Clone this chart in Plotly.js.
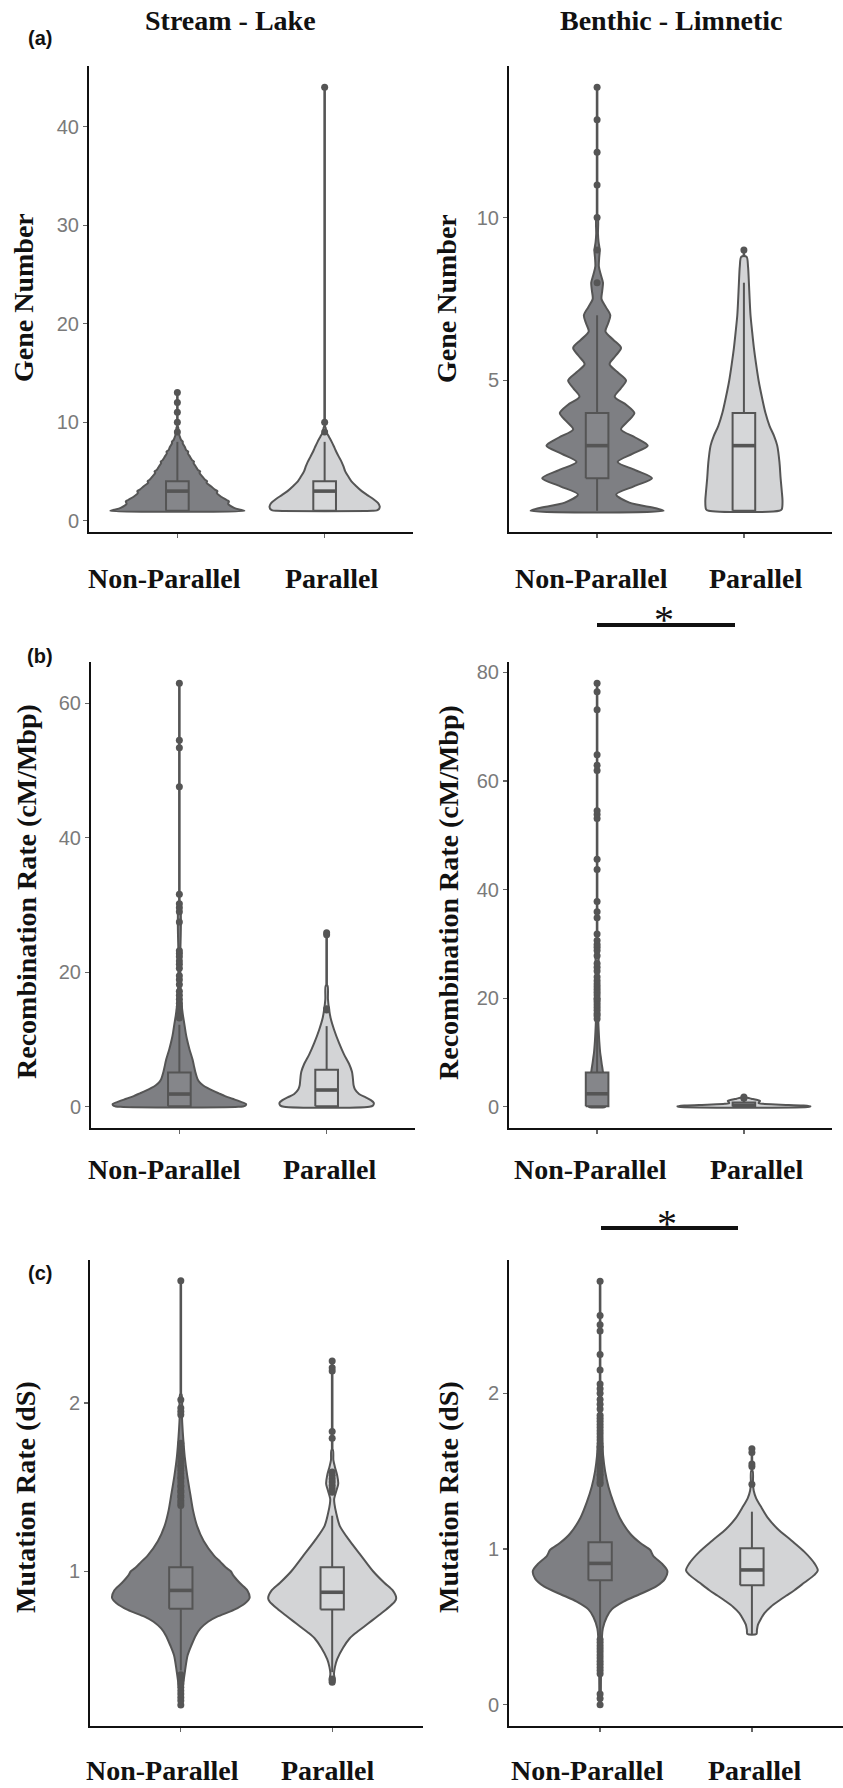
<!DOCTYPE html>
<html>
<head>
<meta charset="utf-8">
<script src="https://cdn.plot.ly/plotly-3.0.1.min.js"></script>
<style>
html,body{margin:0;padding:0;background:#fff;}
#chart{width:843px;height:1788px;}
</style>
</head>
<body>
<div id="chart"></div>
<script>
// ---------------- labels ----------------
const categories = ['Non-Parallel', 'Parallel'];
const columnTitles = ['Stream - Lake', 'Benthic - Limnetic'];
const panelLetters = ['(a)', '(b)', '(c)'];
const yTitles = ['Gene Number', 'Recombination Rate (cM/Mbp)', 'Mutation Rate (dS)'];

// Violin profiles: y levels and half-widths (category units); the last level is the maximum
// value, reached by a thin tail.
// ---------------- (a) Gene Number, Stream - Lake ----------------
const geneSL_NP_y = [1, 1.1, 1.3, 1.7, 1.95, 2.1, 2.4, 2.8, 3.0, 3.15, 3.5, 3.85, 4.0, 4.15, 4.5, 4.85, 5.0, 5.15, 5.5, 5.85, 6.0, 6.15, 6.5, 6.85, 7.0, 7.15, 7.5, 7.85, 8.0, 8.2, 8.6, 9.0, 9.5, 13];
const geneSL_NP_w = [0.455, 0.43, 0.385, 0.345, 0.35, 0.335, 0.30, 0.268, 0.272, 0.255, 0.228, 0.198, 0.202, 0.188, 0.168, 0.150, 0.155, 0.140, 0.125, 0.110, 0.113, 0.100, 0.085, 0.071, 0.074, 0.060, 0.050, 0.036, 0.037, 0.025, 0.015, 0.008, 0.005, 0.004];
const geneSL_P_y = [1, 1.05, 1.2, 1.45, 1.8, 2.2, 2.6, 3.0, 3.5, 4.0, 4.5, 5.0, 5.5, 6.0, 6.5, 7.0, 7.5, 8.0, 8.5, 9.0, 9.5, 44];
const geneSL_P_w = [0.325, 0.355, 0.370, 0.374, 0.362, 0.330, 0.290, 0.252, 0.215, 0.182, 0.160, 0.140, 0.128, 0.114, 0.096, 0.079, 0.064, 0.048, 0.030, 0.012, 0.005, 0.004];
const geneSL_q1 = [1, 1], geneSL_med = [3, 3], geneSL_q3 = [4, 4], geneSL_lf = [1, 1], geneSL_uf = [8, 8];
const geneSL_NP_out = [9, 10, 11, 12, 13];
const geneSL_P_out = [9, 10, 44];

// ---------------- (a) Gene Number, Benthic - Limnetic ----------------
const geneBL_NP_y = [1, 1.08, 1.25, 1.5, 1.75, 2.0, 2.25, 2.5, 2.75, 3.0, 3.25, 3.5, 3.75, 4.0, 4.25, 4.5, 4.75, 5.0, 5.25, 5.5, 5.75, 6.0, 6.25, 6.5, 6.75, 7.0, 7.25, 7.5, 7.75, 8.0, 8.25, 8.5, 8.75, 9.0, 9.25, 9.5, 10, 14];
const geneBL_NP_w = [0.453, 0.40, 0.22, 0.13, 0.25, 0.374, 0.26, 0.14, 0.24, 0.345, 0.26, 0.163, 0.21, 0.254, 0.20, 0.12, 0.16, 0.197, 0.14, 0.085, 0.125, 0.163, 0.11, 0.057, 0.075, 0.09, 0.06, 0.03, 0.035, 0.04, 0.025, 0.012, 0.014, 0.018, 0.01, 0.006, 0.005, 0.004];
const geneBL_P_y = [1, 1.05, 1.3, 1.6, 2.0, 2.5, 3.0, 3.3, 3.6, 4.0, 4.5, 5.0, 5.5, 6.0, 6.5, 7.0, 7.5, 8.0, 8.5, 8.8, 9.0];
const geneBL_P_w = [0.24, 0.258, 0.263, 0.258, 0.25, 0.242, 0.227, 0.205, 0.175, 0.147, 0.122, 0.10, 0.083, 0.068, 0.056, 0.045, 0.039, 0.034, 0.028, 0.018, 0.006];
const geneBL_q1 = [2, 1], geneBL_med = [3, 3], geneBL_q3 = [4, 4], geneBL_lf = [1, 1], geneBL_uf = [7, 8];
const geneBL_NP_out = [8, 9, 10, 11, 12, 13, 14];
const geneBL_P_out = [9];

// ---------------- (b) Recombination Rate, Stream - Lake ----------------
const recSL_NP_y = [0, 0.15, 0.4, 0.8, 1.2, 1.6, 2.0, 2.4, 2.8, 3.2, 3.7, 4.2, 5.2, 6.0, 7.0, 8.6, 10, 11, 12.3, 13.5, 14.5, 16, 18, 22, 30, 63];
const recSL_NP_w = [0.40, 0.445, 0.453, 0.41, 0.36, 0.31, 0.268, 0.227, 0.19, 0.16, 0.135, 0.122, 0.108, 0.10, 0.09, 0.068, 0.052, 0.043, 0.034, 0.025, 0.019, 0.012, 0.008, 0.006, 0.005, 0.004];
const recSL_P_y = [0, 0.2, 0.6, 1.0, 1.4, 1.9, 2.6, 3.2, 3.8, 4.5, 5.2, 6.4, 7.8, 9.5, 11.5, 13.2, 14.6, 16, 18, 26];
const recSL_P_w = [0.29, 0.315, 0.32, 0.30, 0.265, 0.22, 0.192, 0.183, 0.18, 0.177, 0.172, 0.152, 0.118, 0.084, 0.05, 0.027, 0.016, 0.009, 0.006, 0.004];
const recSL_q1 = [0.1, 0.1], recSL_med = [1.9, 2.5], recSL_q3 = [5.1, 5.5], recSL_lf = [0, 0], recSL_uf = [12.2, 12];
const recSL_NP_out = [13.2, 13.8, 14.4, 14.9, 15.4, 16.0, 16.6, 17.2, 18.2, 18.9, 19.5, 20.6, 21.2, 21.7, 22.3, 22.8, 23.2, 27.5, 29.0, 29.6, 30.2, 31.6, 47.6, 53.4, 54.5, 63.0];
const recSL_P_out = [14.4, 14.6, 25.6, 25.9];

// ---------------- (b) Recombination Rate, Benthic - Limnetic ----------------
const recBL_NP_y = [0, 0.3, 1, 2, 3, 4, 5, 6, 7, 8, 9, 10, 12, 14, 16, 20, 30, 78];
const recBL_NP_w = [0.055, 0.06, 0.062, 0.06, 0.056, 0.052, 0.047, 0.042, 0.037, 0.031, 0.026, 0.021, 0.015, 0.011, 0.008, 0.006, 0.005, 0.004];
const recBL_P_y = [0, 0.1, 0.25, 0.4, 0.55, 0.7, 0.9, 1.1, 1.3, 1.5, 1.65, 1.8];
const recBL_P_w = [0.445, 0.453, 0.40, 0.25, 0.13, 0.10, 0.105, 0.11, 0.085, 0.05, 0.025, 0.006];
const recBL_q1 = [0.1, 0.05], recBL_med = [2.4, 0.3], recBL_q3 = [6.3, 0.8], recBL_lf = [0, 0], recBL_uf = [15.6, 1.5];
const recBL_NP_out = [16.2, 16.8, 17.2, 17.8, 18.3, 18.8, 19.3, 19.7, 20.0, 20.6, 21.1, 21.6, 22.1, 22.6, 23.2, 23.9, 25.0, 25.7, 26.4, 27.8, 28.8, 29.4, 29.9, 30.6, 31.8, 34.8, 35.9, 37.8, 43.7, 45.6, 53.1, 53.8, 54.5, 61.9, 62.9, 64.8, 73.1, 76.4, 78.0];
const recBL_P_out = [1.6, 1.8];

// ---------------- (c) Mutation Rate, Stream - Lake ----------------
const mutSL_NP_y = [0.205, 0.3, 0.41, 0.5, 0.56, 0.62, 0.66, 0.7, 0.73, 0.77, 0.81, 0.84, 0.886, 0.93, 0.977, 1.0, 1.02, 1.057, 1.09, 1.18, 1.27, 1.36, 1.45, 1.57, 1.68, 1.8, 1.91, 2.05, 2.727];
const mutSL_NP_w = [0.006, 0.012, 0.028, 0.045, 0.07, 0.10, 0.13, 0.18, 0.24, 0.35, 0.425, 0.454, 0.44, 0.39, 0.345, 0.33, 0.30, 0.26, 0.222, 0.151, 0.107, 0.081, 0.064, 0.042, 0.026, 0.015, 0.008, 0.005, 0.004];
const mutSL_P_y = [0.34, 0.36, 0.39, 0.43, 0.477, 0.545, 0.6, 0.636, 0.67, 0.705, 0.74, 0.773, 0.818, 0.84, 0.886, 0.93, 1.0, 1.09, 1.18, 1.27, 1.34, 1.40, 1.43, 1.48, 1.52, 1.57, 1.62, 1.66, 1.72, 2.25];
const mutSL_P_w = [0.012, 0.016, 0.012, 0.018, 0.033, 0.072, 0.115, 0.16, 0.21, 0.26, 0.31, 0.357, 0.412, 0.423, 0.40, 0.346, 0.27, 0.193, 0.116, 0.05, 0.028, 0.015, 0.013, 0.028, 0.04, 0.033, 0.018, 0.008, 0.005, 0.004];
const mutSL_q1 = [0.777, 0.773], mutSL_med = [0.886, 0.875], mutSL_q3 = [1.023, 1.023], mutSL_lf = [0.41, 0.40], mutSL_uf = [1.39, 1.33];
const mutSL_NP_out = [0.205, 0.23, 0.25, 0.27, 0.29, 0.31, 0.33, 0.35, 0.37, 0.385, 1.39, 1.405, 1.42, 1.44, 1.45, 1.47, 1.48, 1.50, 1.51, 1.53, 1.55, 1.56, 1.58, 1.60, 1.62, 1.63, 1.65, 1.67, 1.69, 1.70, 1.72, 1.74, 1.76, 1.93, 1.95, 1.97, 2.02, 2.727];
const mutSL_P_out = [0.34, 0.35, 0.36, 1.47, 1.49, 1.51, 1.53, 1.55, 1.57, 1.59, 1.79, 1.83, 2.19, 2.21, 2.25];

// ---------------- (c) Mutation Rate, Benthic - Limnetic ----------------
const mutBL_NP_y = [0, 0.05, 0.2, 0.35, 0.43, 0.49, 0.564, 0.613, 0.663, 0.71, 0.76, 0.81, 0.86, 0.908, 0.957, 0.994, 1.04, 1.1, 1.2, 1.3, 1.4, 1.5, 1.6, 1.72, 1.85, 2.0, 2.72];
const mutBL_NP_w = [0.004, 0.005, 0.006, 0.009, 0.012, 0.018, 0.044, 0.077, 0.154, 0.26, 0.37, 0.428, 0.443, 0.406, 0.35, 0.33, 0.263, 0.197, 0.13, 0.088, 0.055, 0.033, 0.02, 0.012, 0.007, 0.005, 0.004];
const mutBL_P_y = [0.454, 0.48, 0.515, 0.55, 0.589, 0.63, 0.663, 0.7, 0.736, 0.785, 0.834, 0.864, 0.908, 0.982, 1.055, 1.129, 1.2, 1.276, 1.325, 1.374, 1.42, 1.5, 1.64];
const mutBL_P_w = [0.03, 0.033, 0.04, 0.058, 0.083, 0.125, 0.17, 0.225, 0.28, 0.346, 0.412, 0.434, 0.412, 0.346, 0.26, 0.17, 0.105, 0.057, 0.028, 0.012, 0.007, 0.005, 0.004];
const mutBL_q1 = [0.80, 0.768], mutBL_med = [0.908, 0.866], mutBL_q3 = [1.043, 1.006], mutBL_lf = [0.43, 0.454], mutBL_uf = [1.41, 1.24];
const mutBL_NP_out = [0.0, 0.04, 0.07, 0.20, 0.22, 0.24, 0.26, 0.28, 0.30, 0.32, 0.34, 0.36, 0.38, 0.40, 0.42, 1.42, 1.43, 1.45, 1.47, 1.48, 1.50, 1.52, 1.54, 1.56, 1.57, 1.59, 1.61, 1.63, 1.65, 1.66, 1.68, 1.70, 1.72, 1.74, 1.76, 1.78, 1.80, 1.82, 1.84, 1.86, 1.90, 1.93, 1.96, 2.00, 2.03, 2.06, 2.15, 2.25, 2.40, 2.44, 2.50, 2.72];
const mutBL_P_out = [1.416, 1.53, 1.546, 1.62, 1.644];

// ---------------- axis tick values ----------------
const geneSL_ticks = [0, 10, 20, 30, 40];
const geneBL_ticks = [5, 10];
const recSL_ticks = [0, 20, 40, 60];
const recBL_ticks = [0, 20, 40, 60, 80];
const mutSL_ticks = [1, 2];
const mutBL_ticks = [0, 1, 2];

// ---------------- styling / layout (pixels) ----------------
const W = 843, H = 1788;
const px = v => v / W;
const py = v => 1 - v / H;
const darkFill = '#7e7f83', lightFill = '#d3d4d6';
const darkBox = '#85868a', lightBox = '#d6d7d9';
const edge = '#555555';
const serif = 'Liberation Serif, Times New Roman, serif';
const sans = 'Liberation Sans, Arial, sans-serif';
const boxHalf = 0.077;

const panels = [
  {xd:[89,413], yd:[66,532], yr:[-1.15,46.15], tv:geneSL_ticks,
   vy:[geneSL_NP_y, geneSL_P_y], vw:[geneSL_NP_w, geneSL_P_w],
   q1:geneSL_q1, med:geneSL_med, q3:geneSL_q3, lf:geneSL_lf, uf:geneSL_uf, out:[geneSL_NP_out, geneSL_P_out]},
  {xd:[509,832], yd:[66,532], yr:[0.35,14.65], tv:geneBL_ticks,
   vy:[geneBL_NP_y, geneBL_P_y], vw:[geneBL_NP_w, geneBL_P_w],
   q1:geneBL_q1, med:geneBL_med, q3:geneBL_q3, lf:geneBL_lf, uf:geneBL_uf, out:[geneBL_NP_out, geneBL_P_out]},
  {xd:[91,415], yd:[662,1128], yr:[-3.15,66.15], tv:recSL_ticks,
   vy:[recSL_NP_y, recSL_P_y], vw:[recSL_NP_w, recSL_P_w],
   q1:recSL_q1, med:recSL_med, q3:recSL_q3, lf:recSL_lf, uf:recSL_uf, out:[recSL_NP_out, recSL_P_out]},
  {xd:[509,832], yd:[662,1128], yr:[-3.9,81.9], tv:recBL_ticks,
   vy:[recBL_NP_y, recBL_P_y], vw:[recBL_NP_w, recBL_P_w],
   q1:recBL_q1, med:recBL_med, q3:recBL_q3, lf:recBL_lf, uf:recBL_uf, out:[recBL_NP_out, recBL_P_out]},
  {xd:[90,423], yd:[1260,1726], yr:[0.08,2.85], tv:mutSL_ticks,
   vy:[mutSL_NP_y, mutSL_P_y], vw:[mutSL_NP_w, mutSL_P_w],
   q1:mutSL_q1, med:mutSL_med, q3:mutSL_q3, lf:mutSL_lf, uf:mutSL_uf, out:[mutSL_NP_out, mutSL_P_out]},
  {xd:[509,843], yd:[1260,1726], yr:[-0.136,2.856], tv:mutBL_ticks,
   vy:[mutBL_NP_y, mutBL_P_y], vw:[mutBL_NP_w, mutBL_P_w],
   q1:mutBL_q1, med:mutBL_med, q3:mutBL_q3, lf:mutBL_lf, uf:mutBL_uf, out:[mutBL_NP_out, mutBL_P_out]}
];

const traces = [];
const layout = {
  width: W, height: H,
  margin: {l:0, r:0, t:0, b:0},
  paper_bgcolor: '#ffffff', plot_bgcolor: 'rgba(0,0,0,0)',
  showlegend: false,
  annotations: [], shapes: []
};

panels.forEach((p, i) => {
  const n = i === 0 ? '' : String(i + 1);
  const xa = 'x' + n, ya = 'y' + n;
  layout['xaxis' + n] = {
    domain: [px(p.xd[0]), px(p.xd[1])], range: [0.4, 2.6], anchor: ya,
    tickvals: [1, 2], showticklabels: false, ticks: 'outside', ticklen: 4, tickwidth: 1.2, tickcolor: '#666',
    showline: true, linecolor: '#111', linewidth: 2, showgrid: false, zeroline: false, fixedrange: true
  };
  layout['yaxis' + n] = {
    domain: [py(p.yd[1]), py(p.yd[0])], range: p.yr, anchor: xa,
    tickvals: p.tv, ticks: 'outside', ticklen: 4, tickwidth: 1.2, tickcolor: '#666',
    tickfont: {family: sans, size: 20, color: '#7a7a7a'},
    showline: true, linecolor: '#111', linewidth: 2, showgrid: false, zeroline: false, fixedrange: true
  };
  [0, 1].forEach(k => {
    const c = k + 1;
    const fill = k === 0 ? darkFill : lightFill;
    const bfill = k === 0 ? darkBox : lightBox;
    const vy = p.vy[k], vw = p.vw[k];
    const m = vy.length - 1;          // last level = maximum, drawn as a thin tail
    // violin body built from the density profile
    const xs = [], ys = [];
    for (let j = 0; j < m; j++) { xs.push(c + vw[j]); ys.push(vy[j]); }
    for (let j = m - 1; j >= 0; j--) { xs.push(c - vw[j]); ys.push(vy[j]); }
    xs.push(xs[0]); ys.push(ys[0]);
    traces.push({type:'scatter', mode:'lines', x:xs, y:ys, xaxis:xa, yaxis:ya,
      fill:'toself', fillcolor:fill, line:{color:edge, width:2, shape:'spline', smoothing:0.8},
      hoverinfo:'skip'});
    // tail of the violin up to the maximum
    traces.push({type:'scatter', mode:'lines', x:[c, c], y:[vy[m - 1], vy[m]], xaxis:xa, yaxis:ya,
      line:{color:edge, width:2.6}, hoverinfo:'skip'});
    // whiskers
    traces.push({type:'scatter', mode:'lines', x:[c, c, null, c, c],
      y:[p.q3[k], p.uf[k], null, p.lf[k], p.q1[k]], xaxis:xa, yaxis:ya,
      line:{color:edge, width:2}, hoverinfo:'skip'});
    // box body (q1..q3)
    traces.push({type:'scatter', mode:'lines',
      x:[c - boxHalf, c + boxHalf, c + boxHalf, c - boxHalf, c - boxHalf],
      y:[p.q1[k], p.q1[k], p.q3[k], p.q3[k], p.q1[k]], xaxis:xa, yaxis:ya,
      fill:'toself', fillcolor:bfill, line:{color:edge, width:2}, hoverinfo:'skip'});
    // median bar
    traces.push({type:'scatter', mode:'lines', x:[c - boxHalf, c + boxHalf], y:[p.med[k], p.med[k]],
      xaxis:xa, yaxis:ya, line:{color:edge, width:3.6}, hoverinfo:'skip'});
    // outliers
    traces.push({type:'scatter', mode:'markers', x:p.out[k].map(() => c), y:p.out[k],
      xaxis:xa, yaxis:ya, marker:{color:edge, size:7, line:{width:0}}, hoverinfo:'skip'});
  });
});

// ---------------- text ----------------
const A = layout.annotations;
function txt(t, x, y, size, family, extra) {
  A.push(Object.assign({text:t, x:px(x), y:py(y), xref:'paper', yref:'paper', showarrow:false,
    xanchor:'center', yanchor:'middle', font:{family:family, size:size, color:'#111'}}, extra || {}));
}
txt('<b>' + columnTitles[0] + '</b>', 230, 21, 28, serif);
txt('<b>' + columnTitles[1] + '</b>', 671, 21, 28, serif);
txt('<b>' + panelLetters[0] + '</b>', 40, 38, 20, sans);
txt('<b>' + panelLetters[1] + '</b>', 40, 656, 20, sans);
txt('<b>' + panelLetters[2] + '</b>', 40, 1273, 20, sans);

const yTitleX = [[24, 447], [26, 448], [25, 448]];
const rowCenter = [298, 892, 1497];
[0, 1, 2].forEach(r => {
  txt('<b>' + yTitles[r] + '</b>', yTitleX[r][0], rowCenter[r], 28, serif, {textangle:-90});
  txt('<b>' + yTitles[r] + '</b>', yTitleX[r][1], rowCenter[r], 28, serif, {textangle:-90});
});

const labelX = [[164, 332, 591, 756], [164, 330, 590, 757], [162, 328, 587, 755]];
const labelY = [578, 1169];
[0, 1].forEach(r => {
  labelX[r].forEach((x, j) => {
    txt('<b>' + categories[j % 2] + '</b>', x, labelY[r], 28, serif);
  });
});
// bottom row labels sit on the lower edge of the figure
labelX[2].forEach((x, j) => {
  txt('<b>' + categories[j % 2] + '</b>', x, 1788, 28, serif, {yanchor:'bottom'});
});

// significance bars
const sigBars = [{x0:597, x1:735, y:625, sx:664, sy:619}, {x0:601, x1:738, y:1228, sx:667, sy:1223}];
sigBars.forEach(s => {
  layout.shapes.push({type:'line', xref:'paper', yref:'paper', x0:px(s.x0), x1:px(s.x1), y0:py(s.y), y1:py(s.y),
    line:{color:'#111', width:4}});
  txt('*', s.sx, s.sy, 40, serif);
});

Plotly.newPlot('chart', traces, layout, {displayModeBar:false, staticPlot:true});
</script>
</body>
</html>
